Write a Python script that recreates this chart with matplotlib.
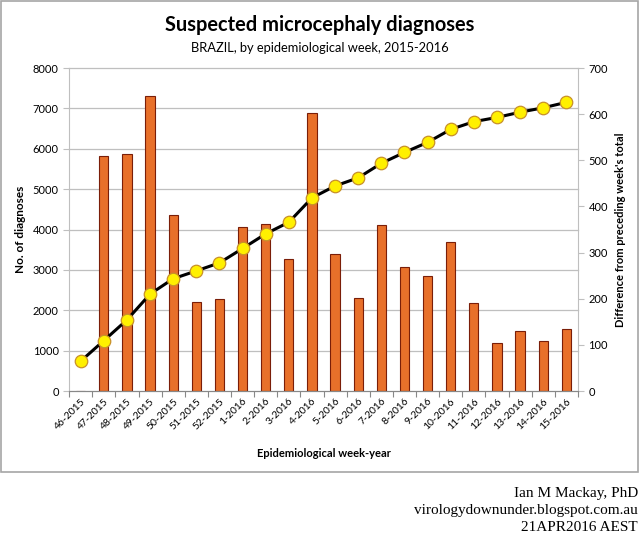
import matplotlib
matplotlib.use("Agg")
import matplotlib.pyplot as plt
import matplotlib.transforms as mtransforms
from matplotlib.patches import Rectangle
import numpy as np

# ── Data ──────────────────────────────────────────────────────────────────────

weeks = ["46-2015", "47-2015", "48-2015", "49-2015", "50-2015", "51-2015",
         "52-2015", "1-2016", "2-2016", "3-2016", "4-2016", "5-2016",
         "6-2016", "7-2016", "8-2016", "9-2016", "10-2016", "11-2016",
         "12-2016", "13-2016", "14-2016", "15-2016"]

# cumulative suspected cases (left axis, line)
cumulative = [739, 1248, 1761, 2401, 2782, 2975, 3174, 3530, 3893, 4180, 4783,
              5079, 5280, 5640, 5909, 6158, 6480, 6671, 6776, 6906, 7015, 7150]

# difference from preceding week (right axis, bars)
weekly_diff = [0, 509, 513, 640, 381, 193, 199, 356, 363, 287, 603,
               296, 201, 360, 269, 249, 322, 191, 105, 130, 109, 135]

left_ticks = [0, 1000, 2000, 3000, 4000, 5000, 6000, 7000, 8000]
right_ticks = [0, 100, 200, 300, 400, 500, 600, 700]

# ── Style ─────────────────────────────────────────────────────────────────────

plt.rcParams["font.family"] = ["Lato", "DejaVu Sans"]
GRID = "#BFBFBF"
BAR = "#E8702A"
BAR_EDGE = "#7A1E08"

fig = plt.figure(figsize=(6.4, 5.38), dpi=100)
ax = fig.add_axes([0.108, 0.2732, 0.795, 0.6004])
ax2 = ax.twinx()

x = np.arange(len(weeks))

# bars on the right-hand axis, drawn below the line axis
ax2.bar(x, weekly_diff, width=0.4, color=BAR, edgecolor=BAR_EDGE,
        linewidth=0.8, zorder=2)
ax2.set_ylim(0, 700)
ax2.set_yticks(right_ticks)

# gridlines follow the left axis ticks, but sit behind the bars
gtrans = mtransforms.blended_transform_factory(ax2.transAxes, ax.transData)
for v in left_ticks[1:]:
    ax2.plot([0, 1], [v, v], transform=gtrans, color=GRID, lw=0.9, zorder=1,
             clip_on=False)

ax.plot(x, cumulative, color="black", lw=2.2, marker="o", markersize=9,
        markerfacecolor="#FFF000", markeredgecolor="#C8902A",
        markeredgewidth=0.9, zorder=3)
ax.set_ylim(0, 8000)
ax.set_yticks(left_ticks)
ax.set_zorder(ax2.get_zorder() + 1)
ax.patch.set_visible(False)

ax.set_xlim(-0.5, len(weeks) - 0.5)
ax.set_xticks(np.arange(-0.5, len(weeks), 1))
ax.set_xticklabels([])
ax.set_xticks(x, minor=True)
ax.set_xticklabels(weeks, minor=True, rotation=45, ha="right",
                   rotation_mode="anchor", fontsize=7.5)
ax.tick_params(axis="x", which="minor", length=0, pad=4)
ax.tick_params(axis="x", which="major", length=4, color="#888888")

for a in (ax, ax2):
    a.spines["top"].set_visible(False)
    a.spines["left"].set_color(GRID)
    a.spines["right"].set_color(GRID)
    a.spines["bottom"].set_color("#888888")
    a.tick_params(axis="y", labelsize=8, length=4, color=GRID)
ax.spines["right"].set_visible(False)
ax2.spines["left"].set_visible(False)

ax.set_ylabel("No. of diagnoses", fontsize=8.5, fontweight="bold", labelpad=5)
ax2.set_ylabel("Difference from preceding week's total", fontsize=8,
               fontweight="bold", labelpad=5)
ax.set_xlabel("Epidemiological week-year", fontsize=8, fontweight="bold",
              labelpad=12)

fig.text(0.5, 0.954, "Suspected microcephaly diagnoses", ha="center",
         va="center", fontsize=14.4, fontweight="bold")
fig.text(0.5, 0.911, "BRAZIL, by epidemiological week, 2015-2016",
         ha="center", va="center", fontsize=9.3)

# chart frame
fig.patches.append(Rectangle((0.002, 0.123), 0.995, 0.875,
                             transform=fig.transFigure, fill=False,
                             edgecolor="#A6A6A6", lw=1.2))

for i, line in enumerate(["Ian M Mackay, PhD",
                          "virologydownunder.blogspot.com.au",
                          "21APR2016 AEST"]):
    fig.text(0.997, 0.0836 - i * 0.0316, line, ha="right", va="center",
             fontsize=11, family="Liberation Serif")

fig.savefig("out.png", dpi=100)
